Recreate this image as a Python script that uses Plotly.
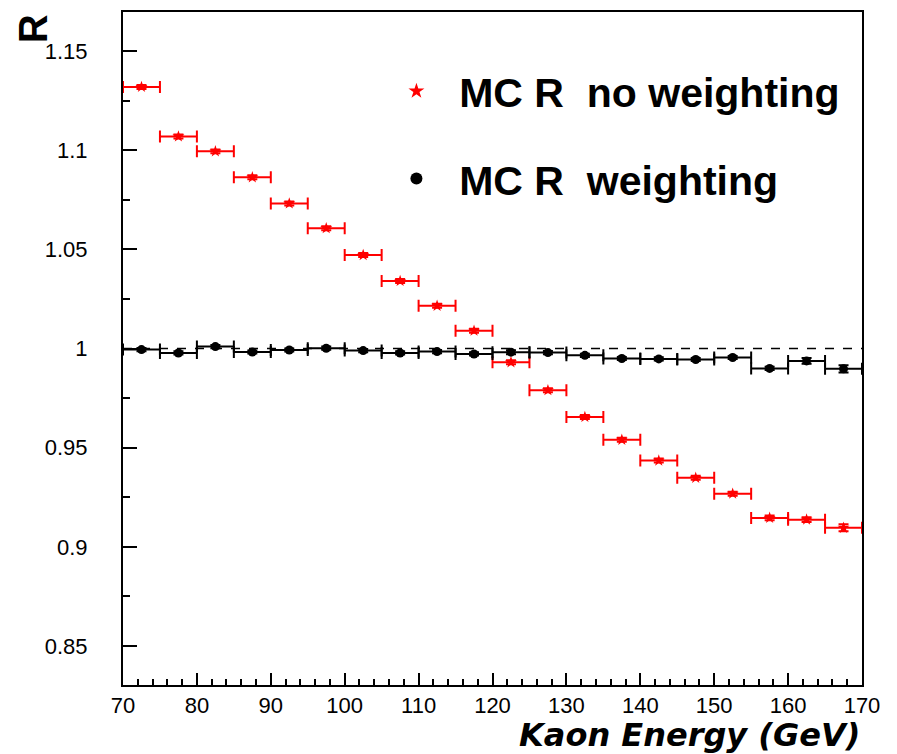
import plotly.graph_objects as go

energy = [72.5, 77.5, 82.5, 87.5, 92.5, 97.5, 102.5, 107.5, 112.5, 117.5,
          122.5, 127.5, 132.5, 137.5, 142.5, 147.5, 152.5, 157.5, 162.5, 167.5]
bin_half = [2.5] * 20
r_noweight = [1.132, 1.107, 1.0995, 1.0864, 1.0732, 1.0607, 1.0472, 1.0341, 1.0216, 1.009,
              0.9931, 0.979, 0.9655, 0.954, 0.9435, 0.9348, 0.9268, 0.9146, 0.9137, 0.9096]
r_noweight_err = [0.001, 0.001, 0.001, 0.001, 0.001, 0.001, 0.001, 0.001, 0.001, 0.001,
                  0.001, 0.001, 0.001, 0.001, 0.001, 0.001, 0.001, 0.0012, 0.0012, 0.0018]
r_weight = [0.9995, 0.9978, 1.001, 0.9983, 0.9993, 1.0002, 0.999, 0.9978, 0.9985, 0.9973,
            0.9982, 0.998, 0.9966, 0.995, 0.9948, 0.9945, 0.9955, 0.990, 0.9938, 0.9898]
r_weight_err = [0.0008, 0.0008, 0.0008, 0.0008, 0.0008, 0.0008, 0.0008, 0.0008, 0.0008, 0.0008,
                0.001, 0.0008, 0.0008, 0.0008, 0.0008, 0.0008, 0.0008, 0.0008, 0.0015, 0.0018]

tickfont = dict(family="Liberation Sans, Arial", size=22, color="black")
legfont = dict(family="Liberation Sans, Arial", size=41, color="black", weight="bold")

fig = go.Figure()
fig.add_trace(go.Scatter(
    x=energy, y=r_noweight, mode="markers", name="  MC R  no weighting",
    marker=dict(symbol="star", size=9, color="red"),
    error_x=dict(type="data", array=bin_half, color="red", thickness=2, width=6),
    error_y=dict(type="data", array=r_noweight_err, color="red", thickness=2, width=5),
    legend="legend", showlegend=True,
))
fig.add_trace(go.Scatter(
    x=energy, y=r_weight, mode="markers", name="  MC R  weighting",
    marker=dict(symbol="circle", size=9, color="black"),
    error_x=dict(type="data", array=bin_half, color="black", thickness=2, width=6),
    error_y=dict(type="data", array=r_weight_err, color="black", thickness=2, width=5),
    legend="legend2", showlegend=True,
))

fig.add_shape(type="line", xref="x", yref="y", x0=70, x1=170, y0=1, y1=1,
              line=dict(color="black", width=1.5, dash="dash"), layer="below")

fig.update_xaxes(range=[70, 170], showgrid=False, zeroline=False,
                 showline=True, linecolor="black", linewidth=2, mirror=True,
                 ticks="inside", ticklen=12, tickwidth=1.5, tickcolor="black",
                 tick0=70, dtick=10, tickfont=tickfont,
                 minor=dict(ticks="inside", ticklen=6, tickwidth=1.5, tickcolor="black", dtick=2))
fig.update_yaxes(range=[0.8303, 1.1698], showgrid=False, zeroline=False,
                 showline=True, linecolor="black", linewidth=2, mirror=True,
                 ticks="inside", ticklen=14, tickwidth=1.5, tickcolor="black",
                 tickfont=tickfont, ticklabelstandoff=29,
                 tickvals=[0.85, 0.9, 0.95, 1.0, 1.05, 1.1, 1.15],
                 ticktext=["0.85", "0.9", "0.95", "1", "1.05", "1.1", "1.15"],
                 minor=dict(ticks="inside", ticklen=7, tickwidth=1.5, tickcolor="black",
                            tickvals=[0.875, 0.925, 0.975, 1.025, 1.075, 1.125]))

fig.add_annotation(text="<b><i>Kaon Energy (GeV)</i></b>", xref="paper", yref="paper",
                   x=1.0, y=-0.074, xanchor="right", yanchor="middle", showarrow=False,
                   font=dict(family="DejaVu Sans", size=32, color="black"))
fig.add_annotation(text="<b>R</b>", xref="paper", yref="paper",
                   x=-0.122, y=1.0, xanchor="center", yanchor="top", showarrow=False,
                   textangle=-90,
                   font=dict(family="Liberation Sans, Arial", size=40, color="black"))

fig.update_layout(
    width=897, height=754,
    margin=dict(l=123, r=35, t=10, b=69),
    paper_bgcolor="white", plot_bgcolor="white",
    showlegend=True,
    legend=dict(x=0.37, y=0.882, xanchor="left", yanchor="middle", itemsizing="constant",
                font=legfont, bgcolor="rgba(0,0,0,0)", itemwidth=30),
    legend2=dict(x=0.37, y=0.752, xanchor="left", yanchor="middle", itemsizing="constant",
                 font=legfont, bgcolor="rgba(0,0,0,0)", itemwidth=30),
)

fig.write_html("out.html", config={"displayModeBar": False},
               post_script="document.body.style.margin='0';document.body.style.overflow='hidden';")
